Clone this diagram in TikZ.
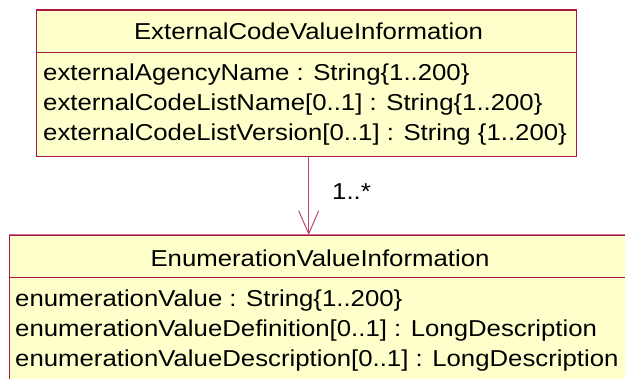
\documentclass[tikz,border=0pt]{standalone}
\usepackage{fontspec}
\setmainfont{Liberation Sans}
\usetikzlibrary{arrows.meta}

\definecolor{classfill}{RGB}{255,255,204}
\definecolor{classline}{RGB}{165,25,65}
\definecolor{classtop}{RGB}{205,115,140}
\definecolor{assocline}{RGB}{190,70,110}

% UML text is set slightly wide
\newcommand{\umltext}[1]{\scalebox{1.12}[1]{#1}}

\tikzset{
  classbox/.style={draw=classline, fill=classfill, line width=1.3pt,
    rectangle, inner sep=0pt},
  umllabel/.style={inner sep=0pt, anchor=base west,
    font=\fontsize{23}{30}\selectfont},
  umlhead/.style={inner sep=0pt, anchor=base,
    font=\fontsize{23}{30}\selectfont},
  compartment/.style={draw=classline, line width=1.3pt},
  assoc/.style={draw=assocline, line width=1pt,
    -{Straight Barb[length=23pt,width=20pt,line width=1pt]}},
}

\begin{document}
\begin{tikzpicture}[x=1pt, y=-1pt]
  \useasboundingbox (0,0) rectangle (625,379);
  \clip (0,0) rectangle (625,379);

  % upper class
  \node[classbox, minimum width=540pt, minimum height=146.7pt]
    (ext) at (306.7,83.35) {};
  \coordinate (extsepL) at (36.7,52.3);
  \coordinate (extsepR) at (576.7,52.3);
  \draw[compartment] (extsepL) -- (extsepR);
  \node[umlhead] (exthead) at (308.5,39.5) {\umltext{ExternalCodeValueInformation}};
  \node[umllabel] (exta1) at (43,81)  {\umltext{externalAgencyName : String\{1..200\}}};
  \node[umllabel] (exta2) at (43,111) {\umltext{externalCodeListName[0..1] : String\{1..200\}}};
  \node[umllabel] (exta3) at (43,141) {\umltext{externalCodeListVersion[0..1] : String \{1..200\}}};

  % lower class (runs past the right and bottom edges)
  \node[classbox, minimum width=622.7pt, minimum height=170pt]
    (enum) at (320.65,320) {};
  \draw[draw=classtop, line width=1.3pt] (enum.north west) -- (enum.north east);
  \coordinate (enumsepL) at (9.3,277.3);
  \coordinate (enumsepR) at (632,277.3);
  \draw[compartment] (enumsepL) -- (enumsepR);
  \node[umlhead] (enumhead) at (320,267) {\umltext{EnumerationValueInformation}};
  \node[umllabel] (enuma1) at (15,306.7) {\umltext{enumerationValue : String\{1..200\}}};
  \node[umllabel] (enuma2) at (15,336.7) {\umltext{enumerationValueDefinition[0..1] : LongDescription}};
  \node[umllabel] (enuma3) at (15,366.7) {\umltext{enumerationValueDescription[0..1] : LongDescription}};

  % association
  \coordinate (assocstart) at (308.7,156.7);
  \coordinate (assocend) at (308.7,235);
  \draw[assoc] (assocstart) -- (assocend);
  \node[umllabel] (mult) at (332,200) {\umltext{1..*}};
\end{tikzpicture}
\end{document}
